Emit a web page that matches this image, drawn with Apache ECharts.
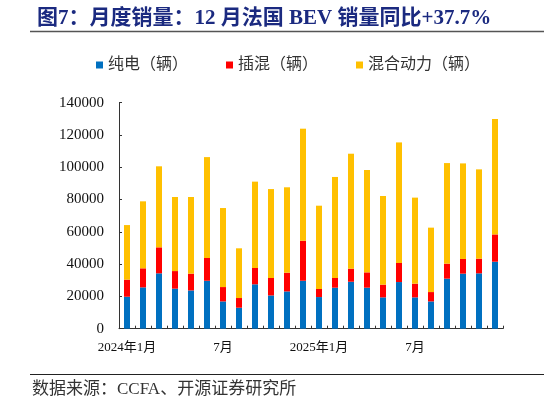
<!DOCTYPE html>
<html>
<head>
<meta charset="utf-8">
<script src="https://cdn.jsdelivr.net/npm/echarts@6/dist/echarts.min.js"></script>
<style>
html,body{margin:0;padding:0;background:#fff;}
#chart{width:546px;height:405px;}
</style>
</head>
<body>
<div id="chart"></div>
<script>
const categories = ['2024年1月','2月','3月','4月','5月','6月','7月','8月','9月','10月','11月','12月',
  '2025年1月','2月','3月','4月','5月','6月','7月','8月','9月','10月','11月','12月'];
const seriesNames = ['纯电（辆）','插混（辆）','混合动力（辆）'];
const bev  = [19800,25600,34300,24800,23700,29700,16900,13000,27500,20600,23100,29700,
              19600,25400,29100,25400,19400,28900,19400,16900,31000,34100,34300,41500];
const phev = [10600,11800,16100,10900,10400,14100,8900,6000,10100,10800,11600,24800,
              5000,6000,8100,9500,7900,11800,8500,5800,9300,9100,9100,16900];
const hev  = [33800,41500,50200,45900,47500,62500,48950,30800,53500,55100,52900,69400,
              51600,62600,71200,63400,54900,74700,53300,39900,62300,59200,55300,71500];
const shownLabels = {0:'2024年1月',6:'7月',12:'2025年1月',18:'7月'};
const titleText = '图7：月度销量：12 月法国 BEV 销量同比+37.7%';
const sourceText = '数据来源：CCFA、开源证券研究所';

const serif = '"Liberation Serif","Noto Sans CJK SC",serif';
const colors = ['#0070C0','#FF0000','#FFC000'];

const chart = echarts.init(document.getElementById('chart'), null, {renderer:'canvas'});
const mkSeries = (name, data, i) => ({
  name, type:'bar', stack:'total', data, barWidth:6,
  itemStyle:{color:colors[i]}
});
chart.setOption({
  animation:false,
  backgroundColor:'#fff',
  title:{
    text:titleText, left:32, top:3,
    textStyle:{fontSize:21, fontWeight:'bold', color:'#1B2A80', fontFamily:serif}
  },
  graphic:[
    {type:'line', shape:{x1:30,y1:31.5,x2:544,y2:31.5}, style:{stroke:'#555',lineWidth:1.5}},
    {type:'line', shape:{x1:30,y1:374.5,x2:544,y2:374.5}, style:{stroke:'#222',lineWidth:1.2}},
    {type:'text', left:32, top:381, style:{text:sourceText, fontSize:17, fill:'#333', fontFamily:serif}}
  ],
  legend:{
    data:seriesNames, left:91, top:52, itemWidth:7, itemHeight:7, itemGap:38,
    icon:'rect',
    textStyle:{fontSize:16, color:'#333', fontFamily:serif}
  },
  grid:{left:119, right:43, top:102.7, bottom:76.3, containLabel:false},
  xAxis:{
    type:'category', data:categories,
    axisLine:{lineStyle:{color:'#333',width:1}},
    axisTick:{show:true, inside:true, length:3, alignWithLabel:false, interval:0, lineStyle:{color:'#333'}},
    axisLabel:{
      interval:0, margin:12, fontSize:13, color:'#111', fontFamily:serif,
      formatter:(v,i)=> shownLabels[i] !== undefined ? shownLabels[i] : ''
    }
  },
  yAxis:{
    type:'value', min:0, max:140000, interval:20000,
    axisLine:{show:true, lineStyle:{color:'#333',width:1}},
    axisTick:{show:true, inside:true, length:3, lineStyle:{color:'#333'}},
    splitLine:{show:false},
    axisLabel:{margin:15, fontSize:15, color:'#111', fontFamily:serif, formatter:v=>String(v)}
  },
  series:[mkSeries(seriesNames[0],bev,0), mkSeries(seriesNames[1],phev,1), mkSeries(seriesNames[2],hev,2)]
});
</script>
</body>
</html>
